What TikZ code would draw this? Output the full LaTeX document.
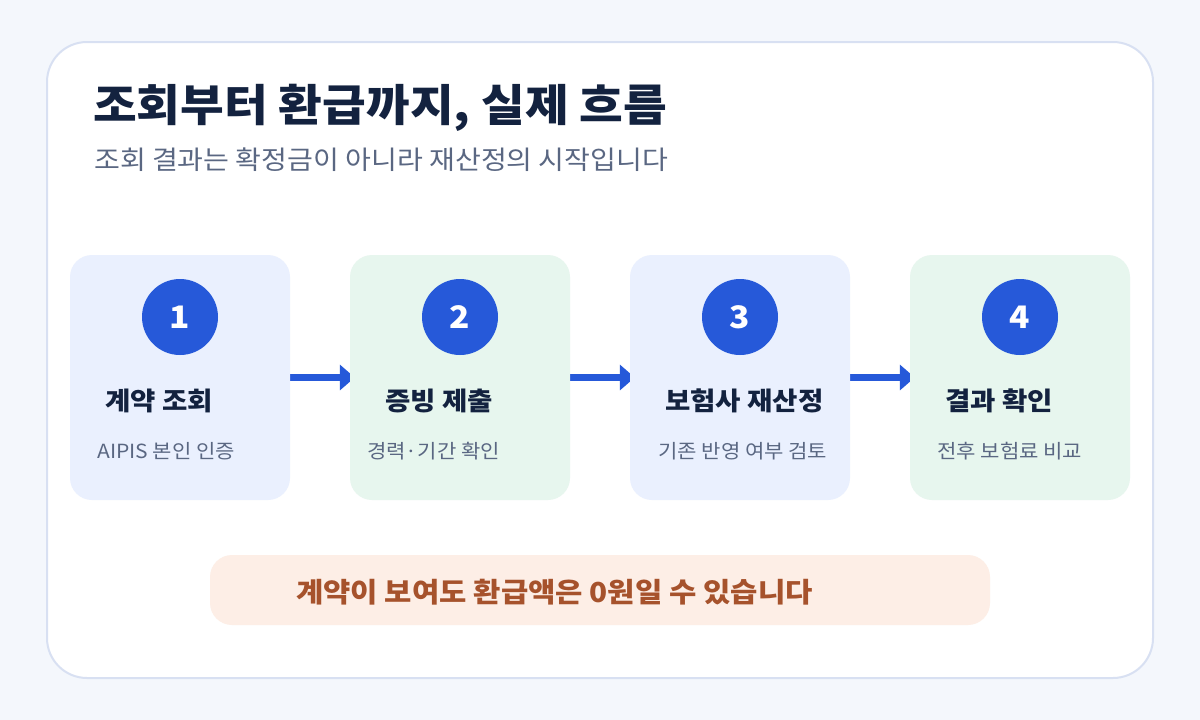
\documentclass[tikz,border=0pt]{standalone}
\usepackage{fontspec}
\setmainfont[FakeStretch=1.08]{Noto Sans CJK KR}
\usetikzlibrary{arrows.meta,backgrounds}
\definecolor{pagebg}{HTML}{F4F7FC}
\definecolor{cardline}{HTML}{D8E0F2}
\definecolor{navy}{HTML}{13223F}
\definecolor{slate}{HTML}{5A6782}
\definecolor{stepblue}{HTML}{EAF0FE}
\definecolor{stepgreen}{HTML}{E7F6EE}
\definecolor{accent}{HTML}{2659D9}
\definecolor{peach}{HTML}{FDEEE6}
\definecolor{rust}{HTML}{A6522C}
\tikzset{
  stepbox/.style={rounded corners=22pt, minimum width=220pt, minimum height=245pt, inner sep=0pt, draw=none},
  numcircle/.style={circle, fill=accent, minimum size=76pt, inner sep=0pt, text=white, font=\fontsize{31}{33}\selectfont\bfseries},
  steptitle/.style={anchor=west, text=navy, font=\fontsize{25.5}{28}\selectfont\bfseries, inner sep=0pt},
  stepsub/.style={anchor=west, text=slate, font=\fontsize{19.5}{22}\selectfont, inner sep=0pt},
  flow/.style={draw=accent, line width=7pt, -{Triangle[length=15pt,width=25pt]}, shorten >=-5pt}
}
\begin{document}
\begin{tikzpicture}[x=1pt,y=-1pt]
\useasboundingbox (0,0) rectangle (1200,720);
% step boxes
\node[stepbox, fill=stepblue] (b1) at (180,377.5) {};
\node[stepbox, fill=stepgreen] (b2) at (460,377.5) {};
\node[stepbox, fill=stepblue] (b3) at (740,377.5) {};
\node[stepbox, fill=stepgreen] (b4) at (1020,377.5) {};
\begin{pgfonlayer}{background}
\fill[pagebg] (0,0) rectangle (1200,720);
\draw[cardline, line width=2pt, fill=white, rounded corners=40pt] (47,42) rectangle (1153,678);
\draw[flow] (b1.east) -- (b2.west);
\draw[flow] (b2.east) -- (b3.west);
\draw[flow] (b3.east) -- (b4.west);
\end{pgfonlayer}
% title
\node[anchor=west, text=navy, inner sep=0pt, font=\fontsize{44}{48}\selectfont\bfseries] (title) at (93,108) {조회부터 환급까지, 실제 흐름};
\node[anchor=west, text=slate, inner sep=0pt, font=\fontsize{26}{30}\selectfont] (subtitle) at (94,160) {조회 결과는 확정금이 아니라 재산정의 시작입니다};
% circles
\node[numcircle] (n1) at (180,317) {1};
\node[numcircle] (n2) at (460,317) {2};
\node[numcircle] (n3) at (740,317) {3};
\node[numcircle] (n4) at (1020,317) {4};
% step titles
\node[steptitle] (t1) at (105,401) {계약 조회};
\node[steptitle] (t2) at (385,401) {증빙 제출};
\node[steptitle] (t3) at (665,401) {보험사 재산정};
\node[steptitle] (t4) at (945,401) {결과 확인};
% step subtitles
\node[stepsub] (s1) at (97,451) {AIPIS 본인 인증};
\node[stepsub] (s2) at (367,451) {경력·기간 확인};
\node[stepsub] (s3) at (658,451) {기존 반영 여부 검토};
\node[stepsub] (s4) at (937,451) {전후 보험료 비교};
% banner
\node[rounded corners=22pt, fill=peach, minimum width=780pt, minimum height=70pt, inner sep=0pt] (banner) at (600,590) {};
\node[anchor=west, text=rust, inner sep=0pt, font=\fontsize{27.5}{30}\selectfont\bfseries] (bannertext) at (296,592) {계약이 보여도 환급액은 0원일 수 있습니다};
\end{tikzpicture}
\end{document}
